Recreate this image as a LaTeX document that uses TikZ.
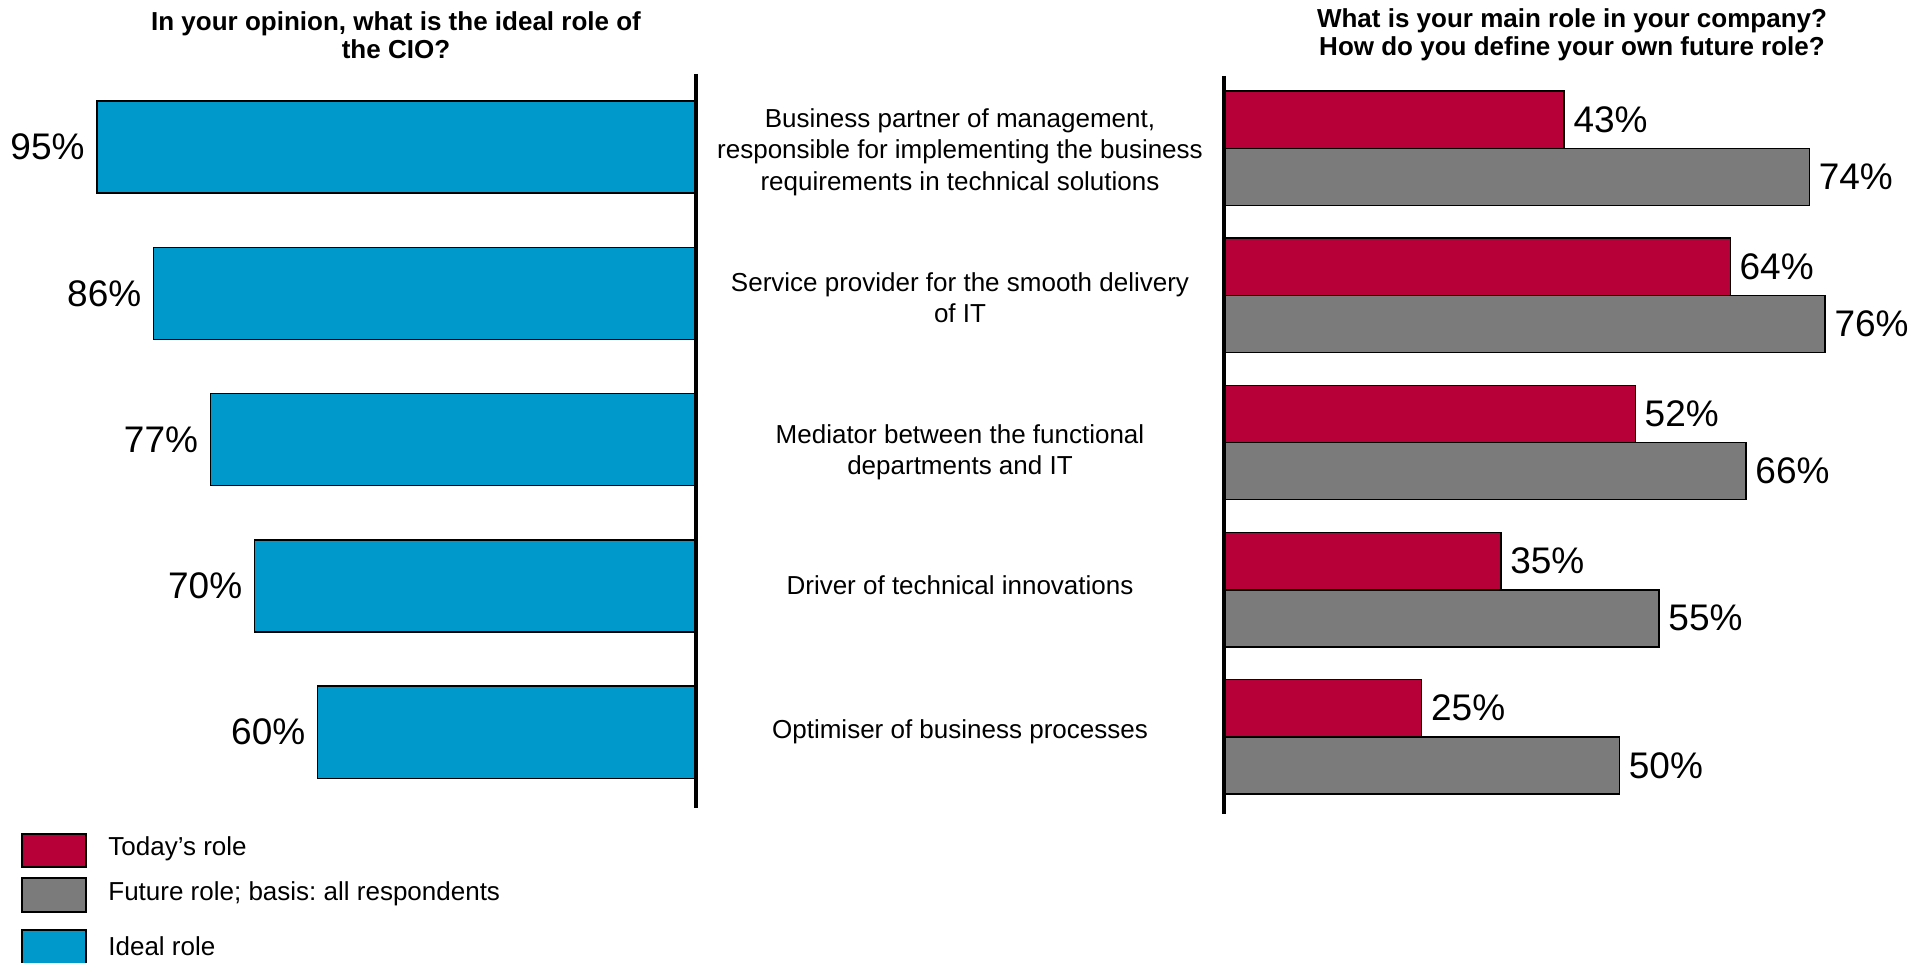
\documentclass[tikz,border=0pt]{standalone}
\usepackage{fontspec}
\setmainfont{Liberation Sans}
\frenchspacing
\definecolor{cblue}{HTML}{0099CC}
\definecolor{cred}{HTML}{B70037}
\definecolor{cgray}{HTML}{7B7B7B}
\begin{document}
\begin{tikzpicture}[x=0.5pt,y=-0.5pt,
 bar/.style={draw=black, line width=0.7pt},
 axisline/.style={line width=1.6pt},
 pct/.style={font=\fontsize{18.5}{22}\selectfont, inner sep=0pt},
 lbl/.style={font=\fontsize{13}{15.7}\selectfont, align=center, inner sep=0pt},
 ttl/.style={font=\bfseries\fontsize{13}{14}\selectfont, align=center, inner sep=0pt},
 leg/.style={font=\fontsize{13}{15}\selectfont, anchor=west, inner sep=0pt}]
\useasboundingbox (0,0) rectangle (1929,963);
% left bars
\foreach \v [count=\i from 0] in {95,86,77,70,60} {
  \pgfmathsetmacro\t{100.9+146.3*\i}
  \draw[bar, fill=cblue] ({696-6.306*\v},\t) rectangle (696,{\t+92.2});
  \node[pct, anchor=east] (lp\i) at ({696-6.306*\v-12},{\t+46.1}) {\v\%};
}
% right bars
\foreach \a/\b [count=\i from 0] in {43/74,64/76,52/66,35/55,25/50} {
  \pgfmathsetmacro\t{91+147.1*\i}
  \draw[bar, fill=cred] (1224,\t) rectangle ({1224+7.91*\a},{\t+57.5});
  \draw[bar, fill=cgray] (1224,{\t+57.5}) rectangle ({1224+7.91*\b},{\t+114.5});
  \node[pct, anchor=west] (ra\i) at ({1224+7.91*\a+9},{\t+28.75}) {\a\%};
  \node[pct, anchor=west] (rb\i) at ({1224+7.91*\b+9},{\t+86}) {\b\%};
}
% axes
\coordinate (la1) at (696,74);
\coordinate (la2) at (696,808);
\coordinate (ra1) at (1224,76);
\coordinate (ra2) at (1224,814);
\draw[axisline] (la1) -- (la2);
\draw[axisline] (ra1) -- (ra2);
% titles
\node[ttl] (t1) at (396,35) {In your opinion, what is the ideal role of\\the CIO?};
\node[ttl] (t2) at (1572,35) {What is your main role in your company?\\How do you define your own future role?};
% middle labels
\node[lbl] (m1) at (960,152) {Business partner of management,\\responsible for implementing the business\\requirements in technical solutions};
\node[lbl] (m2) at (960,298) {Service provider for the smooth delivery\\of IT};
\node[lbl] (m3) at (960,452) {Mediator between the functional\\departments and IT};
\node[lbl] (m4) at (960,585) {Driver of technical innovations};
\node[lbl] (m5) at (960,732) {Optimiser of business processes};
% legend
\draw[bar, fill=cred] (22,834) rectangle (86,867);
\draw[bar, fill=cgray] (22,878) rectangle (86,912);
\draw[bar, fill=cblue] (22,930) rectangle (86,975);
\node[leg] (g1) at (108,849) {Today’s role};
\node[leg] (g2) at (108,894) {Future role; basis: all respondents};
\node[leg] (g3) at (108,946) {Ideal role};
\end{tikzpicture}
\end{document}
